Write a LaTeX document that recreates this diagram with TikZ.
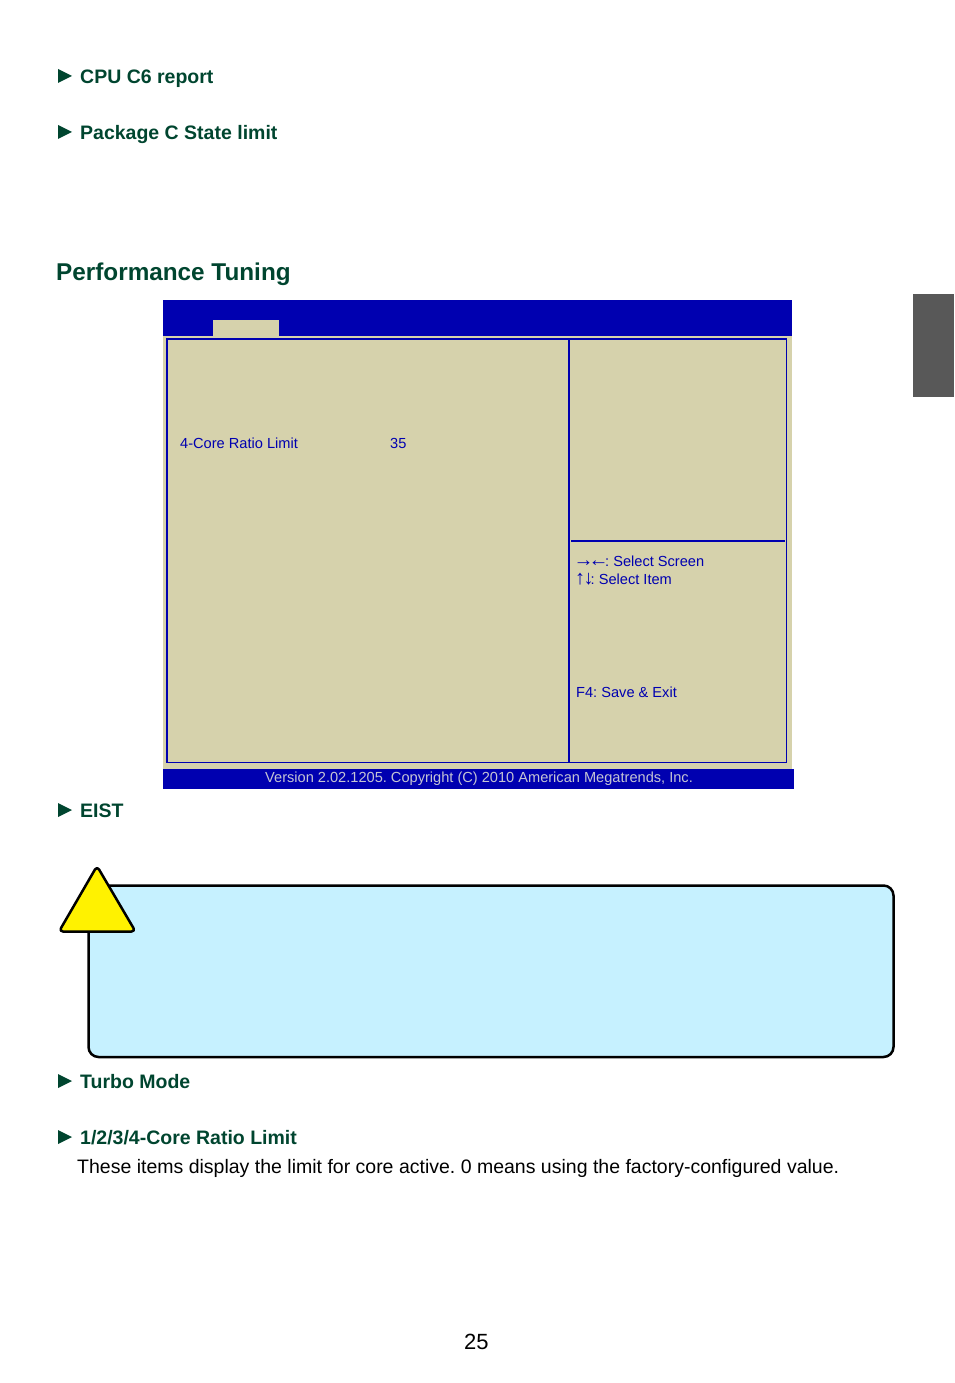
\documentclass[tikz,border=0pt]{standalone}
\usepackage{fontspec}
\setmainfont{Liberation Sans}
\frenchspacing
\definecolor{headgreen}{HTML}{00452F}
\definecolor{biosblue}{HTML}{0000B0}
\definecolor{biostan}{HTML}{D6D2AC}
\definecolor{notecyan}{HTML}{C6F1FF}
\definecolor{tabgray}{HTML}{585858}
\definecolor{footgray}{HTML}{C4C4D4}
\newcommand{\bigarrows}{\fontsize{20}{20}\selectfont}
\tikzset{
  itemtext/.style={anchor=base west,inner sep=0pt,font=\fontsize{19.5}{23}\selectfont\bfseries,text=headgreen},
  biostext/.style={anchor=base west,inner sep=0pt,font=\fontsize{14.6}{17}\selectfont,text=biosblue},
  bodytext/.style={anchor=base west,inner sep=0pt,font=\fontsize{19.5}{23}\selectfont,text=black}
}
\begin{document}
\begin{tikzpicture}[x=1pt,y=-1pt]
\useasboundingbox (0,0) rectangle (954,1383);
% side tab
\fill[tabgray] (913,294) rectangle (954,397);
% item headings
\foreach \ypos/\textpos/\name/\label in {83/84/cpu/CPU C6 report,139/140/pkg/Package C State limit,817/817/eist/EIST,1088/1088/turbo/Turbo Mode,1144/1144/ratio/1\slash 2\slash 3\slash 4-Core Ratio Limit}{
  \fill[headgreen] (58,\ypos-14) -- (72,\ypos-7) -- (58,\ypos) -- cycle;
  \node[itemtext] (\name) at (80,\textpos) {\label};
}
\node[itemtext,font=\fontsize{24.3}{29}\selectfont\bfseries] (title) at (56,280) {Performance Tuning};
% bios screen
\fill[biostan] (163,336) rectangle (792,769);
\fill[biosblue] (163,300) rectangle (792,336);
\fill[biostan] (213,320) rectangle (279,336);
\fill[biosblue] (163,769) rectangle (794,789);
\draw[biosblue,line width=1.5] (167,339) rectangle (786.5,762.5);
\draw[biosblue,line width=2] (569,339) -- (569,763);
\draw[biosblue,line width=2] (571,541) -- (785,541);
\node[biostext] (core) at (180,448) {4-Core Ratio Limit};
\node[biostext] (coreval) at (390,448) {35};
\node[biostext] (keyscreen) at (573.5,566) {{\bigarrows →\kern-5pt←\kern-3.5pt}: Select Screen};
\node[biostext] (keyitem) at (575,584) {{\bigarrows ↑\kern-1.5pt↓\kern-3pt}: Select Item};
\node[biostext] (keyexit) at (576,697) {F4: Save \& Exit};
\node[biostext,text=footgray] (version) at (265,782) {Version 2.02.1205. Copyright (C) 2010 American Megatrends, Inc.};
% note box
\draw[fill=notecyan,line width=2.5,rounded corners=10] (88.5,885.5) rectangle (893.5,1057);
\draw[fill=yellow,line width=2.5,rounded corners=4,line join=round] (97,866) -- (135.5,931.5) -- (59,931.5) -- cycle;
% description and page number
\node[bodytext] (desc) at (77,1173) {These items display the limit for core active. 0 means using the factory-configured value.};
\node[bodytext,font=\fontsize{22}{26}\selectfont] (page) at (464,1349) {25};
\end{tikzpicture}
\end{document}
